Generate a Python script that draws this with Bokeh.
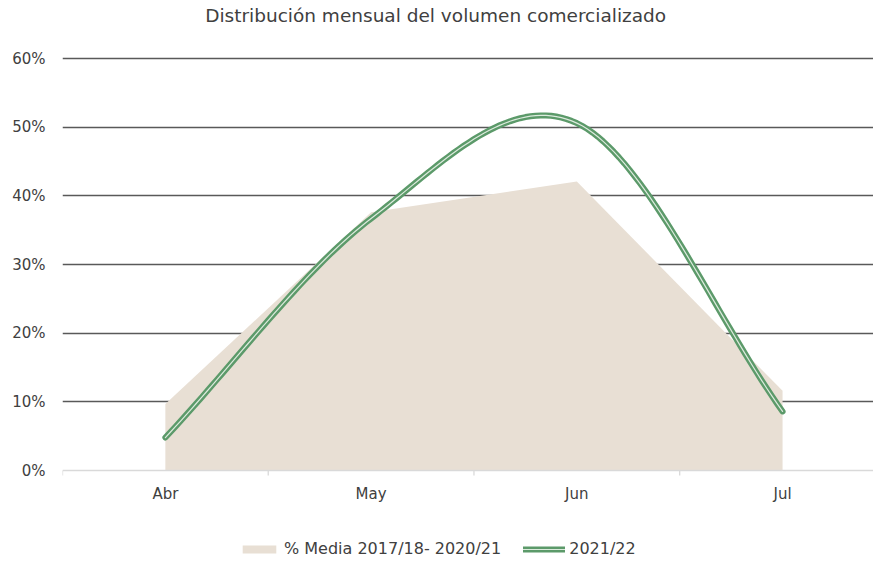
import numpy as np
from bokeh.plotting import figure
from bokeh.models import Range1d, FixedTicker, Legend, LegendItem, ColumnDataSource, Span
from bokeh.core.properties import value
from bokeh.embed import file_html
from bokeh.resources import INLINE

months = ["Abr", "May", "Jun", "Jul"]
media_1718_2021 = [0.097, 0.376, 0.421, 0.116]
season_2122 = [0.048, 0.367, 0.506, 0.086]
y_ticks = [0.0, 0.1, 0.2, 0.3, 0.4, 0.5, 0.6]
y_tick_labels = ["0%", "10%", "20%", "30%", "40%", "50%", "60%"]
title_text = "Distribución  mensual del volumen comercializado"

FONT = "DejaVu Sans"
TXT = "#404040"

xi = np.arange(len(months), dtype=float)
bounds = np.arange(len(months) + 1) - 0.5

# Smoothed line (Catmull-Rom, as in the spreadsheet's smoothed line)
def smooth(xs, ys, n=40):
    ys = np.asarray(ys, float)
    m = np.zeros_like(ys)
    m[0] = ys[1] - ys[0]
    m[-1] = ys[-1] - ys[-2]
    m[1:-1] = (ys[2:] - ys[:-2]) / 2
    ox, oy = [], []
    for i in range(len(ys) - 1):
        t = np.linspace(0, 1, n, endpoint=(i == len(ys) - 2))
        h00 = 2*t**3 - 3*t**2 + 1
        h10 = t**3 - 2*t**2 + t
        h01 = -2*t**3 + 3*t**2
        h11 = t**3 - t**2
        oy.extend(h00*ys[i] + h10*m[i] + h01*ys[i+1] + h11*m[i+1])
        ox.extend(xs[i] + t*(xs[i+1]-xs[i]))
    return np.array(ox), np.array(oy)

sx, sy = smooth(xi, season_2122)

PX = 414 / 0.603          # pixels per unit of y
Y0 = -92 / PX             # bottom of drawing area (below the axis)
Y1 = 0.603 + 56 / PX      # top of drawing area (title band)

p = figure(width=873, height=562, output_backend="svg", toolbar_location=None, title=None,
           x_range=Range1d(-0.5, 3.442), y_range=Range1d(Y0, Y1),
           min_border_left=62, min_border_right=0, min_border_top=0, min_border_bottom=0)
p.outline_line_color = None
p.background_fill_color = "white"
p.border_fill_color = "white"
p.xaxis.visible = False

p.xgrid.grid_line_color = None
p.ygrid.ticker = FixedTicker(ticks=y_ticks[1:])
p.ygrid.grid_line_color = "#595959"
p.ygrid.grid_line_width = 1.4

area_src = ColumnDataSource(dict(x=xi, y=media_1718_2021))
r_area = p.varea(x="x", y1=0, y2="y", source=area_src, fill_color="#E8DFD4")
line_src = ColumnDataSource(dict(x=sx, y=sy))
r_l1 = p.line("x", "y", source=line_src, line_color="#5C9A6A", line_width=6, line_cap="round", line_join="round")
r_l2 = p.line("x", "y", source=line_src, line_color="#DCEBDD", line_width=1.2, line_cap="round", line_join="round")

# category axis drawn in the plot area
p.add_layout(Span(location=0, dimension="width", line_color="#D9D9D9", line_width=1.3))
p.segment(x0=bounds, y0=0, x1=bounds, y1=-5 / PX, line_color="#D9D9D9", line_width=1.3)
p.text(x=xi, y=[-23 / PX] * len(months), text=months, text_font=value(FONT),
       text_font_size="15px", text_color=TXT, text_align="center", text_baseline="middle")

# title
p.text(x=[1.328], y=[Y1 - 15 / PX], text=[title_text], text_font=value(FONT),
       text_font_size="18.5px", text_color=TXT, text_align="center", text_baseline="middle")

# y axis
p.yaxis.ticker = FixedTicker(ticks=y_ticks)
p.yaxis.major_label_overrides = {t: l for t, l in zip(y_ticks, y_tick_labels)}
p.yaxis.axis_line_color = None
p.yaxis.major_tick_line_color = None
p.yaxis.minor_tick_line_color = None
p.yaxis.major_label_standoff = 11
p.yaxis.major_label_text_font = FONT
p.yaxis.major_label_text_font_size = "15px"
p.yaxis.major_label_text_color = TXT

legend = Legend(items=[LegendItem(label="% Media 2017/18- 2020/21", renderers=[r_area]),
                       LegendItem(label="2021/22", renderers=[r_l1, r_l2])],
                orientation="horizontal", location=(176, 4),
                glyph_width=42, glyph_height=10, label_text_font=FONT,
                label_text_font_size="16px", label_text_color=TXT,
                spacing=22, label_standoff=4, background_fill_alpha=0,
                border_line_color=None, padding=0, margin=0)
p.add_layout(legend)

open("out.html", "w").write(file_html(p, INLINE))
